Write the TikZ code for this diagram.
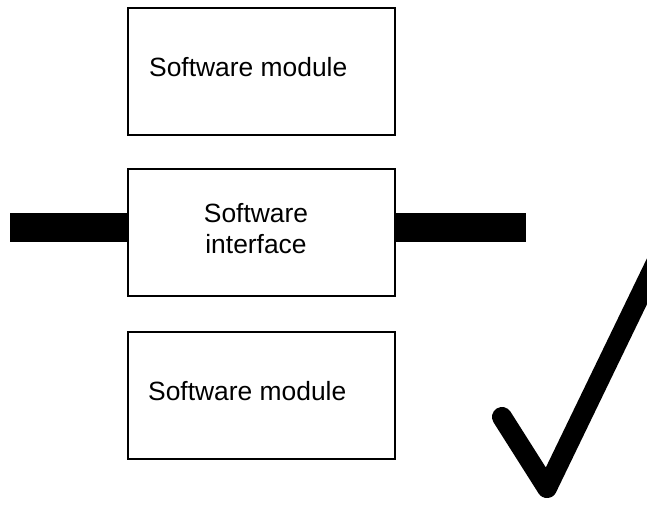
\documentclass[tikz,border=0pt]{standalone}
\usepackage{fontspec}
\setmainfont{Liberation Sans}
\begin{document}
\begin{tikzpicture}[x=1pt,y=1pt,
  box/.style={draw=black,line width=2pt,minimum width=267pt,minimum height=127pt,inner sep=0pt},
  lbl/.style={inner sep=0pt,font=\fontsize{26.4}{31}\selectfont},
  bar/.style={line width=29pt,line cap=butt},
  tick/.style={line width=20pt,line cap=round,line join=round}]
\useasboundingbox (0,0) rectangle (647,504);
\clip (0,0) rectangle (647,504);
% boxes (y measured upward from the bottom edge)
\node[box] (top) at (261.5,432) {};
\node[box] (iface) at (261.5,271.5) {};
\node[box] (bot) at (261.5,109) {};
% labels
\node[lbl,anchor=base west] (toplbl) at (149,427) {Software module};
\node[lbl,anchor=base] (ifacelbl1) at (256,282) {Software};
\node[lbl,anchor=base] (ifacelbl2) at (256,251) {interface};
\node[lbl,anchor=base west] (botlbl) at (148,104) {Software module};
% thick bars on both sides of the interface
\coordinate (lend) at (10,276.5);
\coordinate (rend) at (526,276.5);
\draw[bar] (lend) -- (lend -| iface.west);
\draw[bar] (rend -| iface.east) -- (rend);
% check mark
\coordinate (c1) at (502,87);
\coordinate (c2) at (547,16);
\coordinate (c3) at (680,291);
\draw[tick] (c1) -- (c2) -- (c3);
\end{tikzpicture}
\end{document}
